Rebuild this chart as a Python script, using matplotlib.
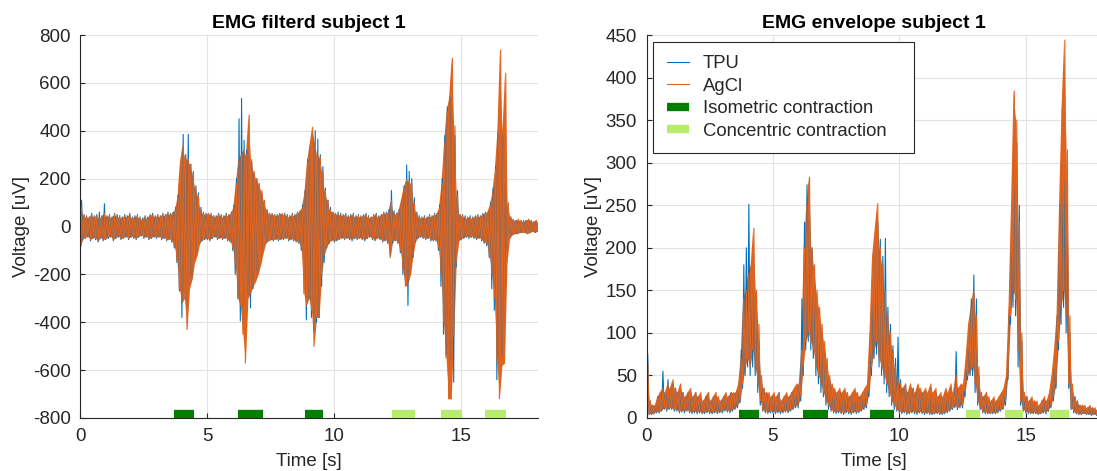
import numpy as np
import matplotlib
matplotlib.use('Agg')
import matplotlib.pyplot as plt

plt.rcParams['font.family'] = ['Liberation Sans', 'DejaVu Sans']
plt.rcParams['axes.unicode_minus'] = False

# time bins of 0.1 s, each with the min / max of the signal
t = np.round(np.arange(0, 18.01, 0.1), 1)

# filtered EMG [uV], max and min per bin
filt_tpu_hi = [110, 50, 45, 40, 55, 45, 50, 60, 45, 95,
               45, 50, 40, 55, 50, 45, 40, 50, 45, 55,
               40, 45, 50, 40, 35, 45, 40, 50, 55, 45,
               50, 45, 55, 50, 60, 55, 60, 80, 130, 250,
               385, 300, 385, 260, 230, 170, 140, 80, 60, 55,
               50, 55, 45, 45, 55, 50, 45, 55, 50, 60,
               90, 200, 450, 535, 360, 320, 300, 270, 220, 200,
               170, 140, 100, 70, 55, 55, 50, 50, 55, 50,
               55, 50, 45, 55, 50, 60, 65, 90, 150, 280,
               330, 350, 400, 365, 300, 250, 160, 110, 80, 60,
               55, 60, 55, 50, 55, 45, 50, 55, 45, 50,
               45, 50, 55, 45, 40, 50, 55, 45, 50, 60,
               60, 70, 150, 65, 55, 70, 110, 170, 257, 230,
               200, 120, 60, 45, 40, 45, 40, 50, 45, 55,
               55, 90, 200, 380, 500, 540, 520, 380, 150, 50,
               50, 45, 40, 45, 40, 45, 50, 45, 55, 60,
               60, 100, 160, 250, 390, 400, 380, 250, 80, 40,
               30, 25, 30, 25, 25, 25, 30, 25, 20, 25, 20]
filt_tpu_lo = [-95, -55, -50, -45, -60, -50, -55, -65, -50, -60,
               -55, -50, -45, -60, -50, -45, -55, -50, -45, -55,
               -45, -50, -55, -45, -40, -50, -45, -55, -50, -45,
               -50, -45, -55, -50, -60, -55, -65, -90, -150, -270,
               -380, -290, -330, -250, -210, -150, -110, -70, -60, -55,
               -55, -60, -50, -45, -55, -50, -55, -50, -60, -65,
               -100, -200, -300, -395, -340, -300, -280, -340, -260, -220,
               -190, -150, -100, -70, -60, -55, -60, -55, -60, -55,
               -55, -50, -60, -55, -60, -65, -70, -100, -200, -390,
               -300, -380, -440, -400, -380, -250, -150, -90, -70, -60,
               -65, -60, -55, -50, -55, -50, -55, -60, -50, -55,
               -50, -55, -60, -50, -45, -55, -60, -50, -55, -65,
               -60, -70, -120, -70, -60, -70, -110, -200, -230, -330,
               -200, -130, -65, -50, -45, -50, -55, -50, -60, -60,
               -60, -100, -250, -450, -540, -600, -560, -650, -170, -60,
               -55, -50, -45, -50, -45, -50, -55, -50, -60, -70,
               -80, -130, -260, -350, -640, -560, -540, -400, -100, -50,
               -35, -30, -30, -25, -25, -25, -30, -25, -20, -25, -20]
filt_agcl_hi = [80, 45, 40, 35, 50, 40, 45, 35, 40, 55,
                40, 45, 35, 50, 45, 40, 35, 45, 40, 50,
                35, 40, 45, 35, 30, 40, 35, 45, 50, 40,
                45, 40, 50, 45, 55, 50, 55, 70, 120, 270,
                340, 290, 280, 260, 220, 160, 130, 70, 55, 50,
                55, 50, 45, 40, 50, 45, 40, 50, 45, 55,
                80, 180, 280, 300, 320, 300, 466, 280, 230, 200,
                180, 150, 110, 70, 55, 50, 50, 45, 50, 55,
                50, 45, 40, 50, 45, 55, 60, 80, 140, 270,
                340, 415, 360, 300, 290, 230, 150, 110, 70, 60,
                55, 50, 50, 45, 50, 40, 45, 50, 40, 45,
                40, 45, 50, 40, 35, 45, 50, 40, 45, 55,
                55, 60, 110, 60, 50, 65, 110, 160, 195, 190,
                180, 100, 55, 40, 35, 40, 35, 45, 40, 50,
                50, 80, 180, 350, 480, 540, 703, 420, 130, 50,
                45, 40, 35, 40, 35, 40, 45, 40, 50, 55,
                60, 90, 140, 240, 400, 737, 400, 640, 100, 40,
                30, 25, 30, 25, 20, 25, 30, 25, 20, 25, 20]
filt_agcl_lo = [-90, -50, -45, -40, -55, -45, -50, -60, -45, -55,
                -50, -45, -40, -55, -45, -40, -50, -45, -40, -50,
                -40, -45, -50, -40, -35, -45, -40, -50, -45, -40,
                -45, -40, -50, -45, -55, -50, -60, -80, -140, -260,
                -320, -300, -430, -260, -220, -150, -120, -70, -55, -50,
                -50, -55, -45, -40, -50, -45, -50, -45, -55, -60,
                -90, -160, -300, -330, -450, -570, -300, -280, -250, -230,
                -200, -160, -110, -70, -60, -55, -55, -50, -55, -50,
                -50, -45, -55, -50, -55, -60, -65, -90, -280, -330,
                -300, -350, -500, -380, -380, -200, -120, -85, -65, -55,
                -60, -55, -50, -45, -50, -45, -50, -55, -45, -50,
                -45, -50, -55, -45, -40, -50, -55, -45, -50, -60,
                -55, -60, -130, -60, -55, -65, -100, -180, -250, -240,
                -200, -120, -60, -45, -40, -45, -50, -45, -55, -55,
                -55, -90, -200, -400, -550, -720, -720, -460, -150, -60,
                -50, -45, -40, -45, -40, -45, -50, -45, -55, -65,
                -70, -120, -200, -300, -560, -720, -580, -570, -150, -50,
                -35, -30, -30, -25, -25, -25, -30, -25, -20, -25, -20]

# EMG envelope [uV], max and min per bin
env_tpu_hi = [75, 20, 15, 15, 25, 30, 55, 30, 45, 35,
              40, 35, 30, 35, 30, 25, 30, 30, 25, 30,
              25, 25, 20, 25, 30, 20, 25, 25, 20, 20,
              25, 25, 25, 30, 25, 30, 40, 80, 180, 200,
              251, 160, 180, 150, 90, 45, 35, 30, 25, 25,
              25, 25, 30, 20, 25, 25, 25, 30, 30, 35,
              40, 140, 230, 274, 250, 200, 160, 130, 110, 100,
              80, 60, 45, 35, 30, 30, 30, 30, 30, 25,
              25, 25, 30, 25, 25, 25, 30, 35, 90, 150,
              200, 230, 210, 190, 211, 130, 110, 85, 70, 95,
              45, 35, 40, 30, 35, 35, 30, 35, 30, 30,
              30, 25, 35, 25, 30, 25, 25, 25, 30, 30,
              35, 30, 78, 30, 35, 35, 60, 100, 140, 168,
              140, 50, 30, 25, 25, 20, 20, 20, 20, 20,
              25, 30, 45, 120, 230, 330, 323, 250, 90, 25,
              25, 20, 20, 20, 15, 15, 20, 20, 20, 25,
              45, 70, 120, 250, 300, 280, 250, 100, 35, 25,
              20, 15, 15, 12, 12, 12, 12, 10, 10, 10, 10]
env_tpu_lo = [15, 4, 4, 5, 6, 6, 8, 10, 8, 10,
              10, 8, 8, 6, 7, 6, 8, 6, 5, 6,
              5, 6, 5, 5, 6, 5, 5, 6, 5, 6,
              6, 8, 7, 6, 8, 10, 12, 18, 35, 50,
              60, 50, 60, 50, 30, 15, 8, 6, 5, 6,
              6, 5, 6, 5, 6, 7, 6, 8, 10, 12,
              12, 20, 50, 80, 90, 80, 70, 50, 40, 30,
              25, 15, 10, 8, 6, 5, 6, 5, 4, 6,
              5, 4, 6, 5, 6, 8, 10, 12, 25, 50,
              70, 75, 60, 50, 40, 30, 25, 15, 10, 8,
              6, 5, 6, 4, 5, 6, 5, 4, 6, 5,
              4, 5, 4, 4, 5, 5, 4, 4, 5, 6,
              8, 10, 12, 10, 12, 12, 25, 45, 50, 50,
              30, 15, 10, 6, 5, 5, 5, 5, 5, 6,
              8, 10, 15, 45, 110, 130, 120, 60, 15, 8,
              6, 5, 5, 5, 5, 4, 5, 6, 5, 8,
              12, 20, 35, 80, 110, 130, 100, 35, 10, 6,
              5, 4, 4, 5, 4, 4, 3, 4, 3, 4, 3]
env_agcl_hi = [65, 20, 15, 15, 25, 30, 35, 30, 40, 35,
               45, 35, 30, 40, 30, 25, 30, 35, 25, 30,
               25, 30, 20, 25, 30, 20, 25, 30, 25, 20,
               25, 30, 25, 30, 30, 30, 40, 70, 140, 150,
               170, 180, 223, 150, 110, 50, 35, 30, 30, 25,
               30, 25, 30, 20, 25, 30, 25, 30, 35, 40,
               40, 80, 200, 250, 283, 200, 180, 150, 130, 110,
               90, 70, 50, 40, 35, 30, 35, 30, 35, 30,
               25, 30, 35, 30, 25, 30, 35, 40, 100, 190,
               220, 252, 200, 180, 150, 120, 100, 80, 60, 45,
               40, 35, 40, 30, 40, 35, 30, 40, 35, 30,
               35, 30, 40, 30, 35, 25, 30, 25, 35, 30,
               40, 30, 50, 35, 40, 40, 70, 110, 130, 150,
               120, 60, 30, 25, 30, 25, 20, 25, 20, 25,
               30, 35, 50, 130, 250, 384, 350, 230, 100, 30,
               25, 20, 25, 20, 20, 15, 20, 25, 20, 30,
               50, 80, 120, 250, 365, 444, 315, 120, 40, 25,
               20, 15, 15, 15, 12, 15, 12, 12, 10, 12, 10]
env_agcl_lo = [20, 5, 5, 6, 8, 7, 10, 12, 10, 12,
               12, 10, 10, 8, 9, 8, 10, 8, 7, 8,
               7, 8, 6, 7, 8, 7, 6, 8, 7, 8,
               8, 10, 9, 8, 10, 12, 15, 20, 40, 60,
               70, 60, 80, 60, 40, 20, 10, 8, 7, 8,
               8, 7, 8, 7, 8, 9, 8, 10, 12, 15,
               15, 25, 60, 90, 100, 90, 80, 60, 50, 40,
               30, 20, 15, 10, 8, 7, 8, 7, 6, 8,
               7, 6, 8, 7, 8, 10, 12, 15, 30, 60,
               80, 90, 70, 60, 50, 40, 30, 20, 15, 10,
               8, 7, 8, 6, 7, 8, 7, 6, 8, 7,
               6, 7, 6, 5, 6, 7, 6, 5, 7, 8,
               10, 12, 15, 12, 15, 15, 30, 50, 55, 60,
               40, 20, 12, 8, 7, 6, 6, 7, 6, 8,
               10, 12, 20, 50, 120, 150, 140, 80, 20, 10,
               8, 7, 6, 7, 6, 5, 6, 8, 7, 10,
               15, 25, 40, 90, 130, 150, 120, 40, 12, 8,
               6, 5, 5, 6, 5, 5, 4, 5, 4, 5, 4]

# contraction periods [s] (start, end) as marked in each panel
iso_left = [(3.68, 4.48), (6.20, 7.20), (8.86, 9.54)]
conc_left = [(12.28, 13.17), (14.20, 15.02), (15.93, 16.75)]
iso_right = [(3.66, 4.46), (6.18, 7.19), (8.84, 9.79)]
conc_right = [(12.63, 13.19), (14.18, 14.88), (15.96, 16.72)]

C_TPU = '#0072BD'
C_AGCL = '#DF6420'
C_ISO = '#007F00'
C_CONC = '#B8EC6E'
TXT = '#262626'


def trace(ax, lo, hi, color, label, filled):
    # zigzag between min and max of each bin; the top trace also gets a solid band
    if filled:
        ax.fill_between(t, lo, hi, color=color, lw=0)
    x = np.column_stack([t, t + 0.05]).ravel()
    y = np.column_stack([lo, hi]).ravel()
    ax.plot(x, y, color=color, lw=0.8, label=label)


def style(ax, ylim, yticks):
    ax.set_xlim(0, 18)
    ax.set_ylim(*ylim)
    ax.set_xticks([0, 5, 10, 15])
    ax.set_yticks(yticks)
    ax.grid(True, color='#E3E3E3', lw=0.8)
    ax.set_axisbelow(True)
    for s in ['top', 'right']:
        ax.spines[s].set_visible(False)
    for s in ['left', 'bottom']:
        ax.spines[s].set_color(TXT)
        ax.spines[s].set_linewidth(0.8)
    ax.tick_params(direction='in', length=3.5, width=0.8, colors=TXT,
                   labelsize=13.5, labelcolor=TXT, pad=7)
    ax.set_xlabel('Time [s]', fontsize=13.5, color=TXT, labelpad=6)
    ax.set_ylabel('Voltage [uV]', fontsize=13.5, color=TXT, labelpad=2)


def bars(ax, periods, color, label, ybar):
    for i, (a, b) in enumerate(periods):
        ax.plot([a, b], [ybar, ybar], color=color, lw=6, solid_capstyle='butt',
                label=label if i == 0 else '_nolegend_', zorder=3)


fig = plt.figure(figsize=(10.97, 4.71), dpi=100)
ax1 = fig.add_axes([80.3 / 1097, 53 / 471, 457.2 / 1097, 383 / 471])
ax2 = fig.add_axes([646.5 / 1097, 53 / 471, 455 / 1097, 383 / 471])

trace(ax1, filt_tpu_lo, filt_tpu_hi, C_TPU, 'TPU', False)
trace(ax1, filt_agcl_lo, filt_agcl_hi, C_AGCL, 'AgCl', True)
bars(ax1, iso_left, C_ISO, 'Isometric contraction', -800 + 4.2 * 1600 / 383)
bars(ax1, conc_left, C_CONC, 'Concentric contraction', -800 + 4.2 * 1600 / 383)
style(ax1, (-800, 800), np.arange(-800, 801, 200))
ax1.set_title('EMG filterd subject 1', fontsize=14, fontweight='bold', pad=5)

trace(ax2, env_tpu_lo, env_tpu_hi, C_TPU, 'TPU', False)
trace(ax2, env_agcl_lo, env_agcl_hi, C_AGCL, 'AgCl', True)
bars(ax2, iso_right, C_ISO, 'Isometric contraction', 4.2 * 450 / 383)
bars(ax2, conc_right, C_CONC, 'Concentric contraction', 4.2 * 450 / 383)
style(ax2, (0, 450), np.arange(0, 451, 50))
ax2.set_title('EMG envelope subject 1', fontsize=14, fontweight='bold', pad=5)

leg = ax2.legend(loc='upper left', bbox_to_anchor=(0.015, 0.5, 0.573, 0.4825),
                 mode='expand', borderaxespad=0,
                 fontsize=13.3, frameon=True, fancybox=False, framealpha=1,
                 edgecolor=TXT, borderpad=0.72, handlelength=1.2,
                 handletextpad=0.75, labelspacing=0.3)
leg.get_frame().set_linewidth(0.8)
for txt in leg.get_texts():
    txt.set_color(TXT)

fig.savefig('out.png', dpi=100)
